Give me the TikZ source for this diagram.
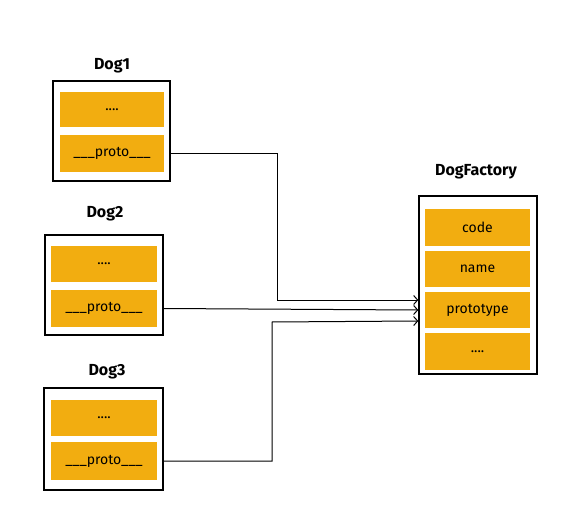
\documentclass[tikz,border=0pt]{standalone}
\usepackage{fontspec}
\setmainfont{Fira Sans}
\usetikzlibrary{arrows.meta}
\definecolor{fieldc}{HTML}{F2AD10}
\begin{document}
\begin{tikzpicture}[x=1pt,y=-1pt,
 outer/.style={draw=black, line width=1.4pt, fill=white, inner sep=0pt},
 field/.style={fill=fieldc, inner sep=0pt, font=\fontsize{14}{16}\selectfont},
 title/.style={font=\bfseries\fontsize{16}{18}\selectfont},
 link/.style={draw=black, line width=1pt, -{Straight Barb[length=4pt,width=9pt]}}]
\useasboundingbox (0,0) rectangle (584,532);
% Dog1
\node[title] (t1) at (112,66) {Dog1};
\node[outer, minimum width=117pt, minimum height=100pt] (d1) at (111.5,131) {};
\node[field, minimum width=104pt, minimum height=35pt] (d1a) at (112,109.5) {....};
\node[field, minimum width=104pt, minimum height=37pt] (d1p) at (112,153.5) {\_\_\_proto\_\_\_};
% Dog2
\node[title] (t2) at (105,214) {Dog2};
\node[outer, minimum width=118pt, minimum height=100pt] (d2) at (104,285) {};
\node[field, minimum width=106pt, minimum height=36pt] (d2a) at (104,264) {....};
\node[field, minimum width=106pt, minimum height=37pt] (d2p) at (104,308.5) {\_\_\_proto\_\_\_};
% Dog3
\node[title] (t3) at (107,372) {Dog3};
\node[outer, minimum width=119pt, minimum height=102pt] (d3) at (103.5,439) {};
\node[field, minimum width=106pt, minimum height=36pt] (d3a) at (104,418) {....};
\node[field, minimum width=106pt, minimum height=38pt] (d3p) at (104,461) {\_\_\_proto\_\_\_};
% DogFactory
\node[title] (tf) at (476,172) {DogFactory};
\node[outer, minimum width=118pt, minimum height=178pt] (fac) at (478,285) {};
\node[field, minimum width=105pt, minimum height=37pt] (fc) at (477.5,227.5) {code};
\node[field, minimum width=105pt, minimum height=36pt] (fn) at (477.5,269) {name};
\node[field, minimum width=105pt, minimum height=36pt] (fp) at (477.5,310) {prototype};
\node[field, minimum width=105pt, minimum height=37pt] (fd) at (477.5,351.5) {....};
% connectors
\coordinate (e1) at (fac.west |- 0,300);
\coordinate (e2) at (fac.west |- 0,310);
\coordinate (e3) at (fac.west |- 0,321);
\draw[link] (d1p -| d1.east) -- (277,153.5) -- (277,300) -- (e1);
\draw[link] (d2p -| d2.east) -- (e2);
\draw[link] (d3p -| d3.east) -- (272,461) -- (272,322) -- (e3);
\end{tikzpicture}
\end{document}
